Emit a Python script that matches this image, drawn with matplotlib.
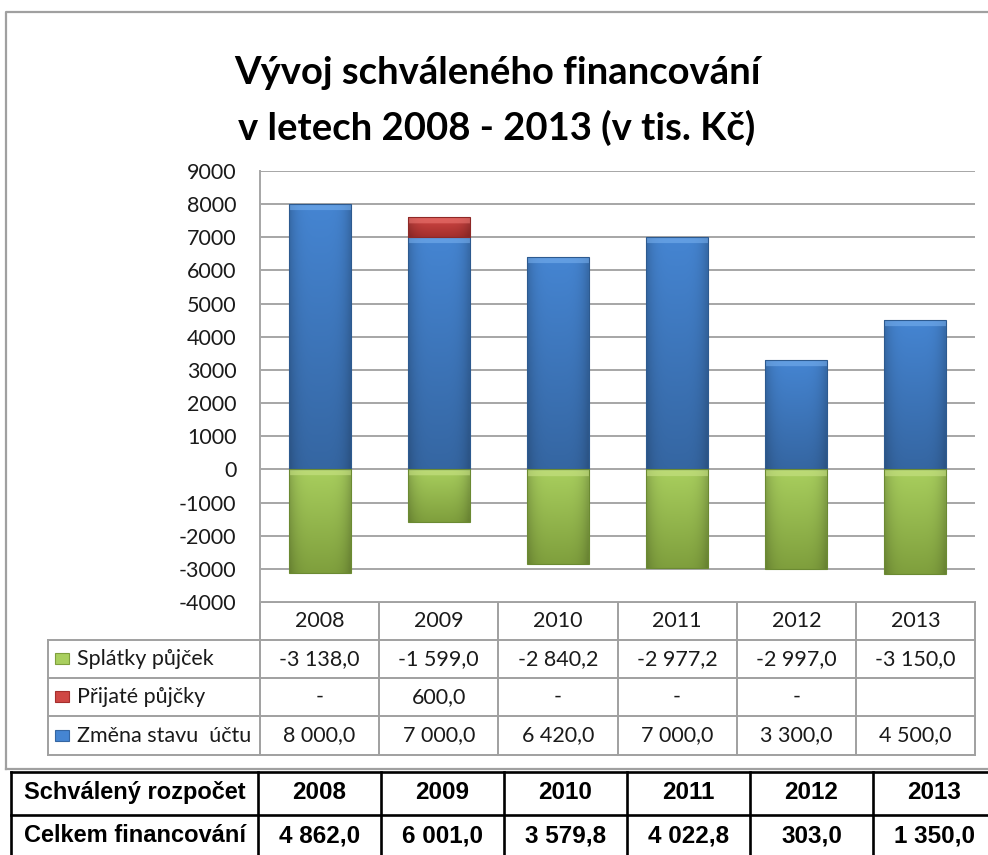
import numpy as np
import matplotlib
matplotlib.use("Agg")
import matplotlib.pyplot as plt
from matplotlib.colors import to_rgb
from matplotlib.patches import Rectangle

# data
years = ['2008', '2009', '2010', '2011', '2012', '2013']
splatky = [-3138.0, -1599.0, -2840.2, -2977.2, -2997.0, -3150.0]
prijate = [0, 600.0, 0, 0, 0, None]      # 0 -> "-", None -> empty cell
zmena = [8000.0, 7000.0, 6420.0, 7000.0, 3300.0, 4500.0]
celkem = [4862.0, 6001.0, 3579.8, 4022.8, 303.0, 1350.0]
series = ['Splátky půjček', 'Přijaté půjčky', 'Změna stavu  účtu']
row_head = ['Schválený rozpočet', 'Celkem financování']

W, H = 988, 855
txt = '#1a1a1a'
grid_c = '#a6a6a6'
cols = {'green': ('#a9cf5e', '#7f9f3d', '#cbe488'),
        'red': ('#cf4744', '#a52f2d', '#ee7a75'),
        'blue': ('#4585d2', '#3566a2', '#7ab2f0')}


def fmt(v):
    s = f"{abs(v):,.1f}".replace(",", " ").replace(".", ",")
    return ("-" if v < 0 else "") + s


def shade(ax, bars, key):
    top, bot, hi = (np.array(to_rgb(c)) for c in cols[key])
    for p in bars:
        h = p.get_height()
        if not h:
            p.set_visible(False)
            continue
        y0, y1 = sorted([p.get_y(), p.get_y() + h])
        n = max(int(abs(h) / 1000 * 33), 4)
        m = 24
        t = np.linspace(0, 1, n)[:, None, None]
        img = bot + (top - bot) * t
        img = np.repeat(img, m, axis=1)
        xs = np.abs(np.linspace(-1, 1, m))[None, :, None]
        img = img * (1 - 0.18 * xs ** 4)
        k = min(7, n // 3)
        img[-k:] = img[-k:] * 0.45 + hi * 0.55
        img = np.clip(img, 0, 1)
        im = ax.imshow(img, extent=[p.get_x(), p.get_x() + p.get_width(), y0, y1],
                       origin='lower', aspect='auto', zorder=2.5, interpolation='bilinear')
        im.set_clip_path(p)


fig = plt.figure(figsize=(W / 100, H / 100), dpi=100)

# pixel overlay for frame and tables
ov = fig.add_axes([0, 0, 1, 1])
ov.set_xlim(0, W)
ov.set_ylim(H, 0)
ov.axis('off')

ax = fig.add_axes([260 / W, 1 - 602 / H, 715 / W, 431 / H])
ax.set_zorder(2)
ax.patch.set_alpha(0)

x = np.arange(len(years))
bw = 0.52
red_vals = [v or 0 for v in prijate]
b_blue = ax.bar(x, zmena, bw, facecolor='none', edgecolor='#2d5a8f', lw=0.8, zorder=3)
b_red = ax.bar(x, red_vals, bw, bottom=zmena, facecolor='none', edgecolor='#8e2826', lw=0.8, zorder=3)
b_green = ax.bar(x, splatky, bw, facecolor='none', edgecolor='#6b8a32', lw=0.8, zorder=3)
shade(ax, b_blue, 'blue')
shade(ax, b_red, 'red')
shade(ax, b_green, 'green')

ax.set_xlim(-0.5, len(years) - 0.5)
ax.set_ylim(-4000, 9000)
ax.set_yticks(range(-4000, 9001, 1000))
ax.set_yticklabels([str(v) for v in range(-4000, 9001, 1000)],
                   fontsize=15.5, family='Lato', color=txt)
ax.tick_params(axis='y', length=0, pad=17)
ax.set_xticks([])
ax.yaxis.grid(True, color=grid_c, lw=1.4)
ax.set_axisbelow(True)
for s in ['top', 'right', 'bottom']:
    ax.spines[s].set_visible(False)
ax.spines['left'].set_color(grid_c)
ax.spines['left'].set_linewidth(1.4)

# title
fig.text(497 / W, 1 - 73 / H, 'Vývoj schváleného financování', ha='center', va='center',
         fontsize=27.5, fontweight='bold', family='Lato', color='black')
fig.text(497 / W, 1 - 128 / H, 'v letech 2008 - 2013 (v tis. Kč)', ha='center', va='center',
         fontsize=27.5, fontweight='bold', family='Lato', color='black')

# chart frame
ov.plot([6, 6, W + 5], [769, 12, 12], color='#a0a0a0', lw=1.6)
ov.plot([6, W + 5], [769, 769], color='#a0a0a0', lw=1.6)

# data table under the chart
cx = np.linspace(260, 975, len(years) + 1)
ry = [602, 640, 678, 716, 755]
lc = '#a0a0a0'
for y in ry[1:]:
    ov.plot([48, 975], [y, y], color=lc, lw=1.4)
ov.plot([48, 48], [ry[1], ry[-1]], color=lc, lw=1.4)
for xx in cx:
    ov.plot([xx, xx], [ry[0], ry[-1]], color=lc, lw=1.4)
ov.plot([260, 975], [602, 602], color=lc, lw=1.4)

centers = (cx[:-1] + cx[1:]) / 2
for c, yr in zip(centers, years):
    ov.text(c, (ry[0] + ry[1]) / 2, yr, ha='center', va='center', fontsize=15.5,
            family='Lato', color=txt)

rows = [[fmt(v) for v in splatky],
        ['' if v is None else ('-' if v == 0 else fmt(v)) for v in prijate],
        [fmt(v) for v in zmena]]
keys = ['green', 'red', 'blue']
for i in range(3):
    yc = (ry[i + 1] + ry[i + 2]) / 2
    ov.add_patch(Rectangle((55, yc - 6), 14, 11, facecolor=cols[keys[i]][0],
                           edgecolor=cols[keys[i]][1], lw=0.8))
    ov.text(77, yc, series[i], ha='left', va='center', fontsize=15.5,
            family='Lato', color=txt)
    for c, s in zip(centers, rows[i]):
        ov.text(c, yc, s, ha='center', va='center', fontsize=15.5,
                family='Lato', color=txt)

# bottom summary table
bx = [11, 258, 381, 504, 627, 750, 873, 996]
by = [772, 815, 860]
for y in by:
    ov.plot([bx[0], bx[-1]], [y, y], color='black', lw=1.9)
for xx in bx:
    ov.plot([xx, xx], [by[0], by[-1]], color='black', lw=1.9)
bc = [(a + b) / 2 for a, b in zip(bx[1:-1], bx[2:])]
line1 = years
line2 = [fmt(v) for v in celkem]
for j, vals in enumerate([line1, line2]):
    yc = (by[j] + by[j + 1]) / 2 - (1 if j == 0 else 2)
    ov.text(24, yc, row_head[j], ha='left', va='center', fontsize=17,
            fontweight='bold', family='Liberation Sans', color='black')
    for c, s in zip(bc, vals):
        ov.text(c, yc, s, ha='center', va='center', fontsize=17.5,
                fontweight='bold', family='Liberation Sans', color='black')

fig.savefig('out.png', dpi=100, facecolor='white')
